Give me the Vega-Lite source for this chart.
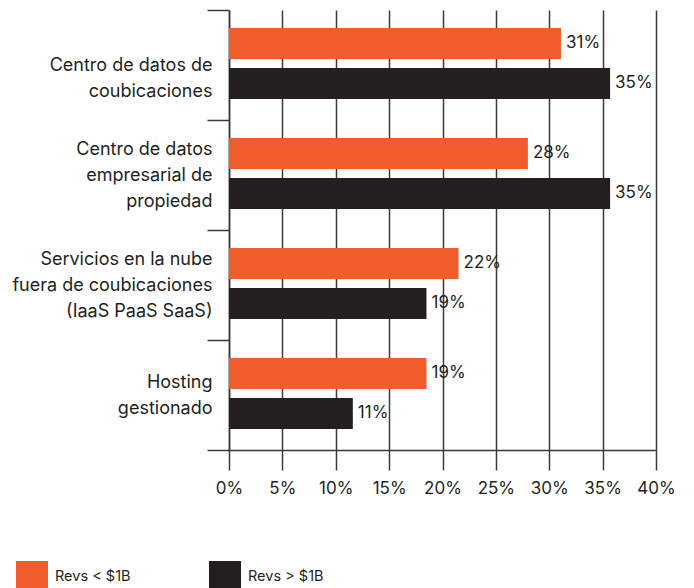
{
  "$schema": "https://vega.github.io/schema/vega-lite/v6.json",
  "width": 427,
  "height": 440,
  "autosize": {"type": "none"},
  "padding": {"left": 229, "top": 10, "right": 38, "bottom": 138},
  "background": "white",
  "config": {"font": "Inter", "view": {"stroke": null}},
  "data": {
    "values": [
      {"category": " |Centro de datos de|coubicaciones", "group": "Revs < $1B", "value": 31.1, "label": "31%"},
      {"category": " |Centro de datos de|coubicaciones", "group": "Revs > $1B", "value": 35.7, "label": "35%"},
      {"category": "Centro de datos|empresarial de|propiedad", "group": "Revs < $1B", "value": 28.0, "label": "28%"},
      {"category": "Centro de datos|empresarial de|propiedad", "group": "Revs > $1B", "value": 35.7, "label": "35%"},
      {"category": "Servicios en la nube|fuera de coubicaciones|(IaaS PaaS SaaS)", "group": "Revs < $1B", "value": 21.5, "label": "22%"},
      {"category": "Servicios en la nube|fuera de coubicaciones|(IaaS PaaS SaaS)", "group": "Revs > $1B", "value": 18.5, "label": "19%"},
      {"category": "Hosting|gestionado", "group": "Revs < $1B", "value": 18.5, "label": "19%"},
      {"category": "Hosting|gestionado", "group": "Revs > $1B", "value": 11.6, "label": "11%"}
    ]
  },
  "encoding": {
    "y": {
      "field": "category",
      "type": "nominal",
      "sort": null,
      "scale": {"paddingInner": 0, "paddingOuter": 0},
      "axis": {
        "title": null,
        "tickBand": "extent",
        "tickSize": 22,
        "tickColor": "#3a3a3a",
        "tickWidth": 1.5,
        "domainColor": "#3a3a3a",
        "domainWidth": 1.5,
        "labelExpr": "split(datum.label, '|')",
        "labelFontSize": 18,
        "labelLineHeight": 26,
        "labelPadding": -5,
        "labelColor": "#231F20",
        "labelLimit": 300,
        "labelBaseline": "middle",
        "labelOffset": {"condition": {"test": "length(split(datum.label, '|')) == 3", "value": -26}, "value": -13},
        "labelOverlap": false,
        "grid": false
      }
    },
    "yOffset": {
      "field": "group",
      "type": "nominal",
      "sort": null,
      "scale": {"paddingInner": 0.225, "paddingOuter": 0.4875, "align": 0.46}
    },
    "x": {
      "field": "value",
      "type": "quantitative",
      "scale": {"domain": [0, 40], "nice": false},
      "axis": {
        "title": null,
        "values": [0, 5, 10, 15, 20, 25, 30, 35, 40],
        "labelExpr": "datum.value + '%'",
        "labelOverlap": false,
        "labelBound": false,
        "labelFlush": false,
        "grid": true,
        "gridColor": "#3a3a3a",
        "gridWidth": 1.5,
        "tickSize": 20,
        "tickColor": "#3a3a3a",
        "tickWidth": 1.5,
        "domainColor": "#3a3a3a",
        "domainWidth": 1.5,
        "labelFontSize": 17,
        "labelPadding": 10,
        "labelColor": "#231F20"
      }
    }
  },
  "layer": [
    {
      "mark": {"type": "bar"},
      "encoding": {
        "color": {
          "field": "group",
          "type": "nominal",
          "sort": null,
          "scale": {"domain": ["Revs < $1B", "Revs > $1B"], "range": ["#F15D2A", "#231F20"]},
          "legend": {
            "title": null,
            "orient": "none",
            "legendX": -213,
            "legendY": 551,
            "direction": "horizontal",
            "symbolType": "square",
            "symbolSize": 1024,
            "symbolStrokeWidth": 0,
            "symbolOpacity": 1,
            "labelFontSize": 14.5,
            "labelOffset": 7,
            "columnPadding": 78,
            "labelColor": "#231F20"
          }
        }
      }
    },
    {
      "mark": {"type": "text", "align": "left", "dx": 5, "baseline": "middle", "fontSize": 17, "color": "#231F20"},
      "encoding": {"text": {"field": "label"}}
    }
  ]
}
